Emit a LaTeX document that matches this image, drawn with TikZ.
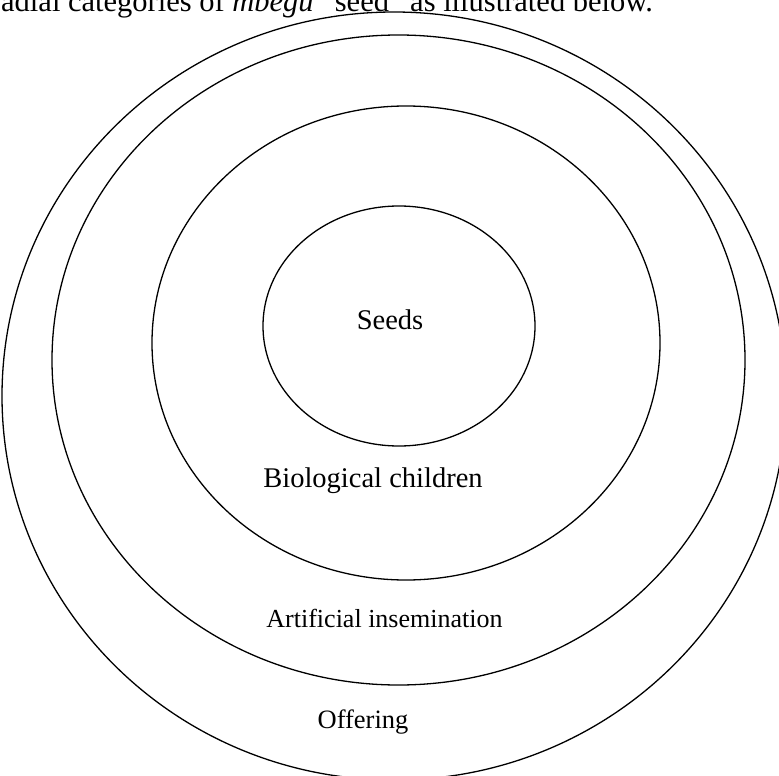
\documentclass[tikz,border=0pt]{standalone}
\usepackage{fontspec}
\setmainfont{Liberation Serif}
\begin{document}
\begin{tikzpicture}[x=1pt,y=-1pt,
  ring/.style={draw=black,line width=1.3pt},
  lbl/.style={inner sep=0pt,anchor=base,font=\fontsize{28.5}{30}\selectfont}]
\useasboundingbox (0,0) rectangle (779,776);
\clip (0,0) rectangle (779,776);
% running text above the figure
\node[inner sep=0pt,anchor=base west,font=\fontsize{30.5}{32}\selectfont] (cap) at (1,12)
  {adial categories of \textit{mbegu} “seed” as illustrated below.};
% nested categories, outermost first
\draw[ring] (394,396) ellipse [x radius=392,y radius=384];
\draw[ring] (398.5,360) ellipse [x radius=346.5,y radius=325];
\draw[ring] (406,343) ellipse [x radius=254,y radius=237];
\draw[ring] (399,326) ellipse [x radius=136,y radius=120];
\node[lbl] (seeds) at (390,329) {Seeds};
\node[lbl] (bio) at (373,487) {Biological children};
\node[lbl,font=\fontsize{26}{28}\selectfont] (ai) at (384.5,627) {Artificial insemination};
\node[lbl,font=\fontsize{26.5}{28}\selectfont] (off) at (363,728) {Offering};
\end{tikzpicture}
\end{document}
